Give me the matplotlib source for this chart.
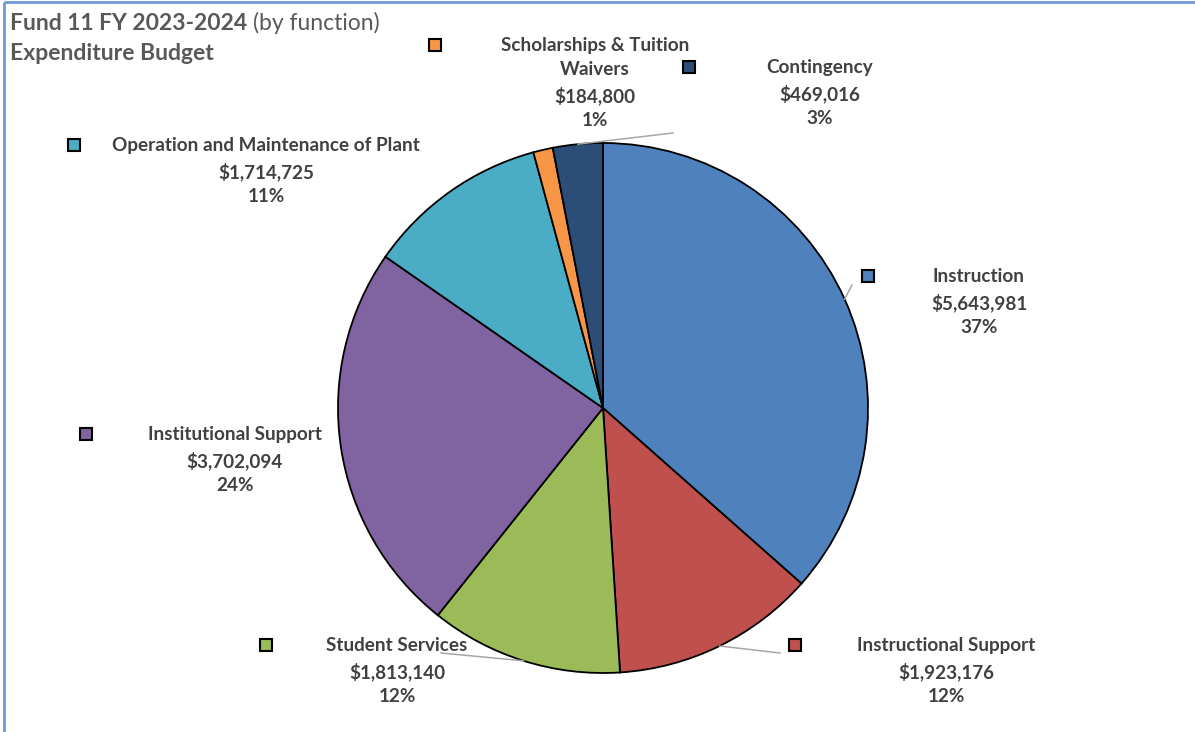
import matplotlib.pyplot as plt
import numpy as np

# ---- data ----
categories = ['Instruction', 'Instructional Support', 'Student Services',
              'Institutional Support', 'Operation and Maintenance of Plant',
              'Scholarships & Tuition\nWaivers', 'Contingency']
amounts = [5643981, 1923176, 1813140, 3702094, 1714725, 184800, 469016]
colors = ['#4F81BD', '#C0504D', '#9BBB59', '#8064A2', '#4BACC6', '#F79646', '#2C4D75']

W, H = 1195, 732
fig = plt.figure(figsize=(W / 100, H / 100), dpi=100)
fig.patch.set_facecolor('white')

# pie axes: center (603, 408) px, radius 265 px
cx, cy, r = 603, 408, 265
ax = fig.add_axes([(cx - r) / W, (H - cy - r) / H, 2 * r / W, 2 * r / H])
wedges, _ = ax.pie(amounts, colors=colors, startangle=90, counterclock=False,
                   wedgeprops=dict(edgecolor='black', linewidth=1.3))
ax.set_xlim(-1, 1)
ax.set_ylim(-1, 1)
ax.set_aspect('equal')

# overlay axes in pixel coordinates for labels
ov = fig.add_axes([0, 0, 1, 1], zorder=5)
ov.set_xlim(0, W)
ov.set_ylim(H, 0)
ov.axis('off')
ov.patch.set_alpha(0)

# border lines
ov.plot([4, W], [2, 2], color='#6F9AD6', lw=2, solid_capstyle='butt')
ov.plot([4, 4], [2, H], color='#6F9AD6', lw=2, solid_capstyle='butt')

# title
txt_color = '#595959'
t1 = ov.text(10, 30, 'Fund 11 FY 2023-2024', fontsize=16.5, fontweight='bold',
             family='Lato', color=txt_color, va='baseline', ha='left')
fig.canvas.draw()
bb = t1.get_window_extent(renderer=fig.canvas.get_renderer())
x_end = ov.transData.inverted().transform((bb.x1, bb.y0))[0]
ov.text(x_end + 6, 30, '(by function)', fontsize=16.5, family='Lato', color=txt_color,
        va='baseline', ha='left')
ov.text(10, 60, 'Expenditure Budget', fontsize=16.5, fontweight='bold',
        family='Lato', color=txt_color, va='baseline', ha='left')

total = sum(amounts)

# label layout (text center x, first line y, marker x)
label_pos = [
    (979, 276, 868),
    (946, 645, 795),
    (397, 645, 266),
    (235, 434, 86),
    (266, 145, 74),
    (595, 45, 435),
    (820, 67, 689),
]
# leader line end points (None = no leader)
leader_end = [(852, 285), (780, 653), (441, 653), None, None, None, (673, 133)]

lab_color = '#404040'
for i, (name, amt) in enumerate(zip(categories, amounts)):
    tx, ty, mx = label_pos[i]
    pct = round(100 * amt / total)
    label = f'{name}\n${amt:,.0f}\n{pct}%'
    ov.text(tx, ty - 8, label, ha='center', va='top', fontsize=13.6, fontweight='bold',
            family='Lato', color=lab_color, linespacing=1.52, multialignment='center')
    ov.plot(mx, ty, marker='s', markersize=8.5, markerfacecolor=colors[i],
            markeredgecolor='black', markeredgewidth=1.5, linestyle='none')

    if leader_end[i] is not None:
        w = wedges[i]
        mid = np.deg2rad((w.theta1 + w.theta2) / 2)
        pt = ax.transData.transform((np.cos(mid), np.sin(mid)))
        px = ov.transData.inverted().transform(pt)
        ex, ey = leader_end[i]
        ov.plot([px[0], ex], [px[1], ey], color='#A6A6A6', lw=1.1, zorder=1)

fig.savefig('out.png', dpi=100)
